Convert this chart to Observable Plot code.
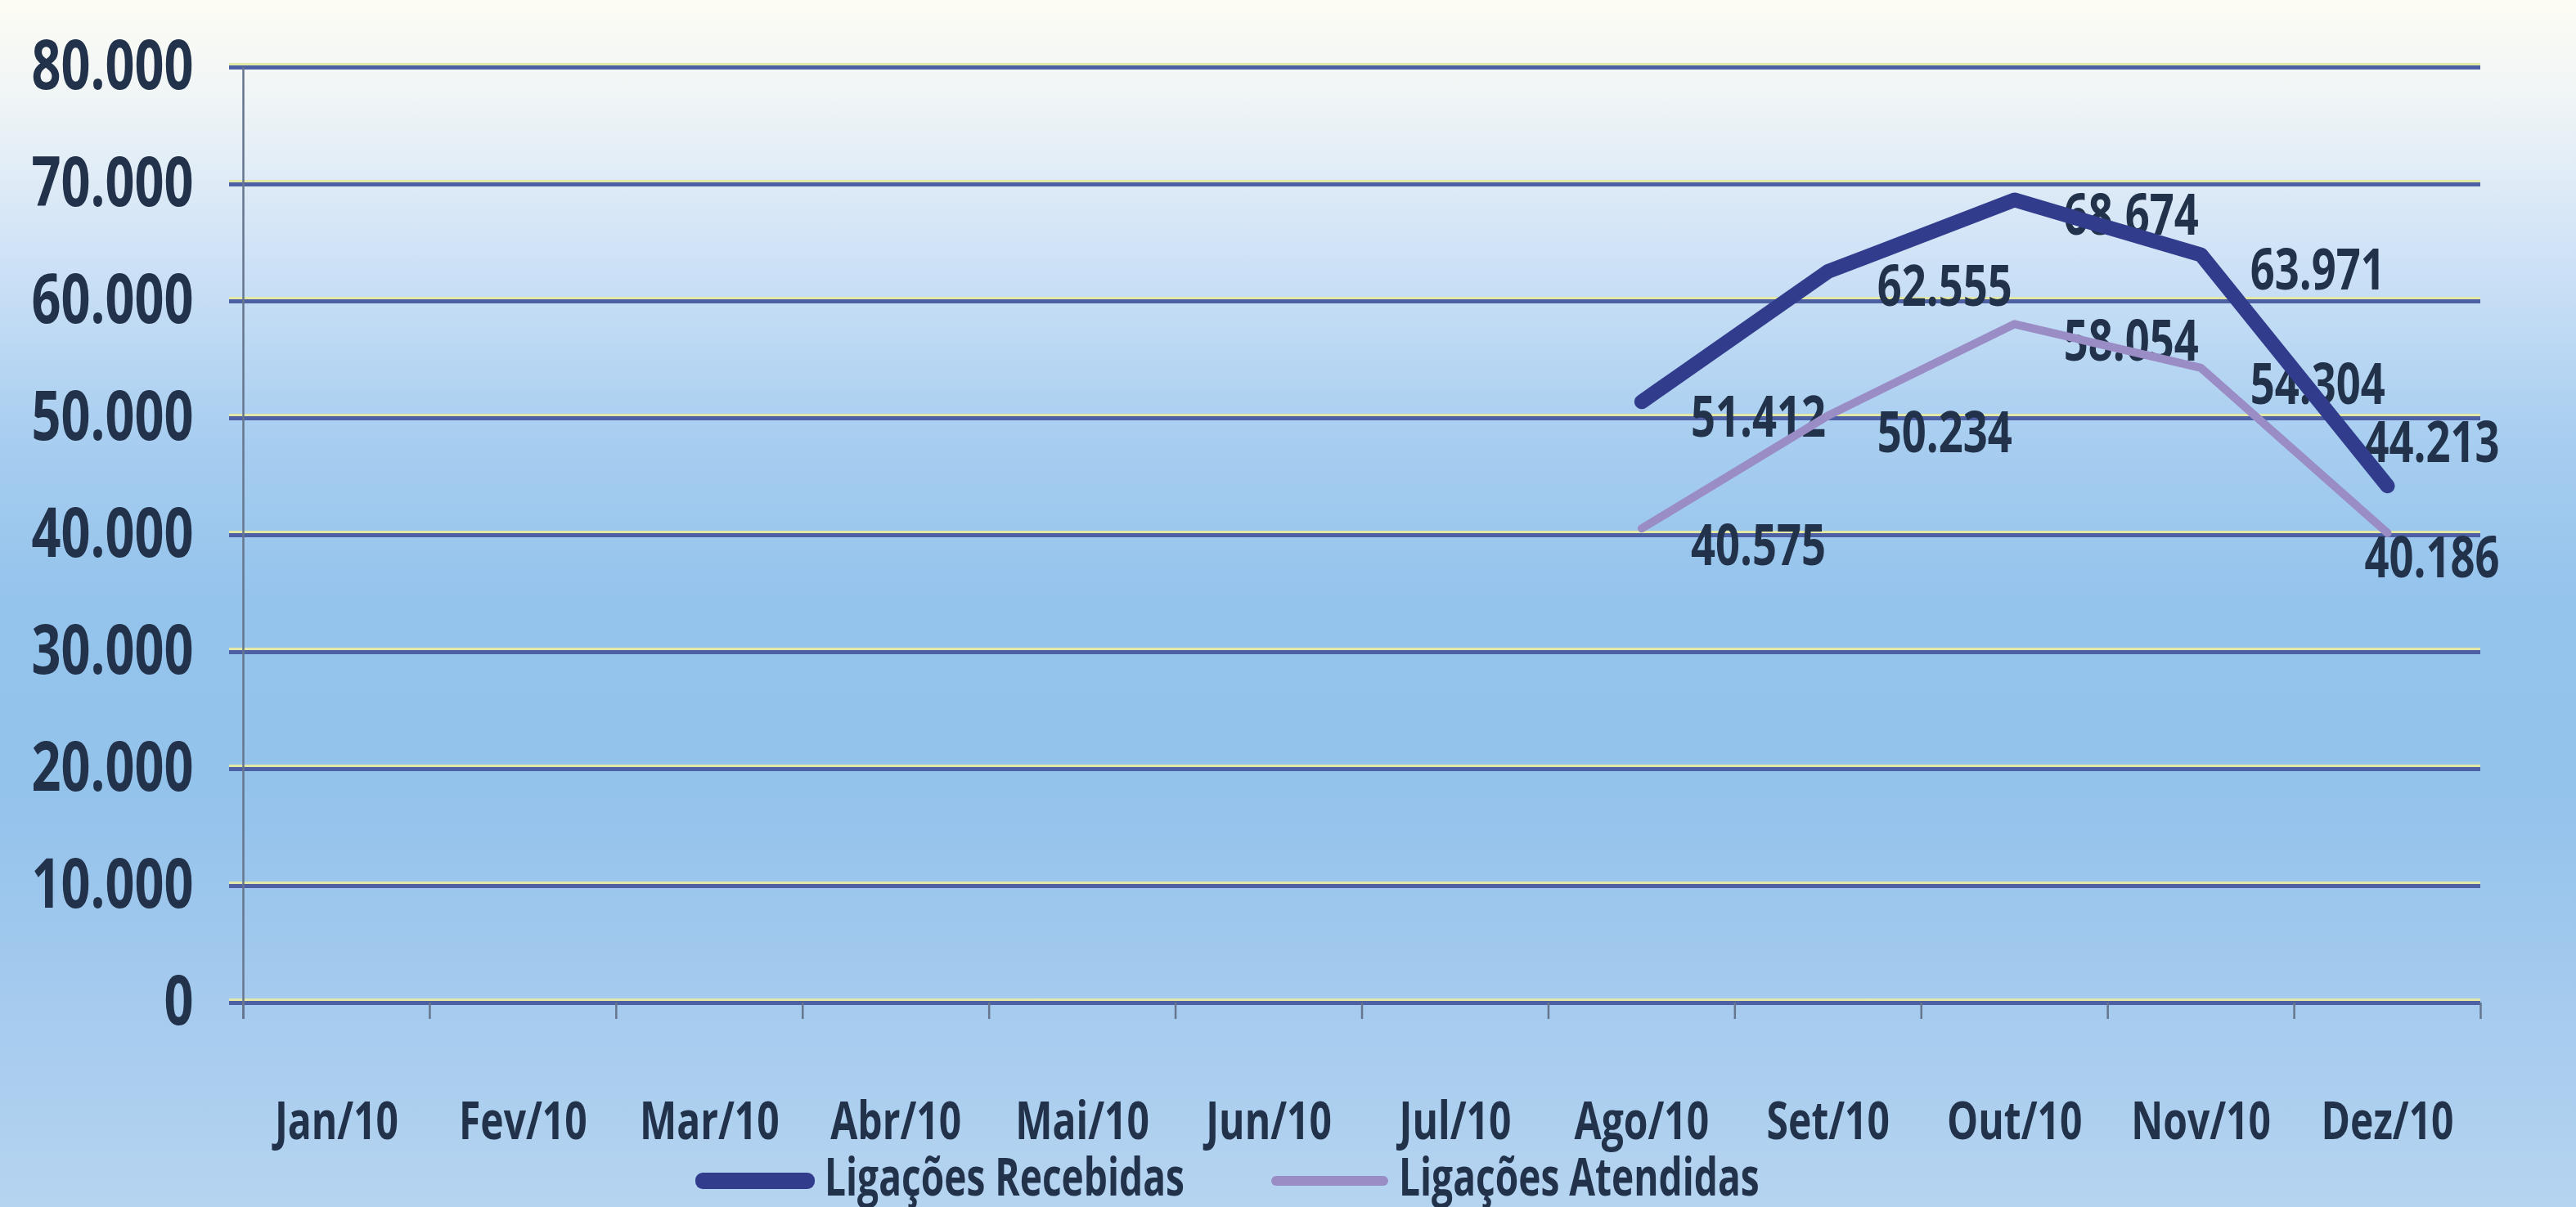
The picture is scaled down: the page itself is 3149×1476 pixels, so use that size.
<!DOCTYPE html>
<html>
<head>
<meta charset="utf-8">
<script src="https://cdn.jsdelivr.net/npm/d3@7"></script>
<script src="https://cdn.jsdelivr.net/npm/@observablehq/plot@0.6"></script>
<style>
  html, body { margin: 0; padding: 0; }
  body {
    width: 3149px; height: 1476px; overflow: hidden;
    background: linear-gradient(to bottom, #fdfcf4 0%, #f0f5f6 8%, #d2e4f7 20%, #a8cef0 36%, #94c3ec 50%, #93c2eb 65%, #a4caee 82%, #b5d4f0 100%);
    font-family: "Open Sans", sans-serif;
  }
  #legend { position: relative; height: 76px; width: 3149px; }
  .sw { position: absolute; border-radius: 9px; }
  .lt { position: absolute; top: 8px; font-size: 64px; line-height: 60px; color: #22324a; font-weight: 700; white-space: nowrap; transform-origin: 0 0; }
</style>
</head>
<body>
<div id="chart"></div>
<div id="legend"></div>
<script>
const months = ["Jan/10","Fev/10","Mar/10","Abr/10","Mai/10","Jun/10","Jul/10","Ago/10","Set/10","Out/10","Nov/10","Dez/10"];
const recebidas = [null,null,null,null,null,null,null,51412,62555,68674,63971,44213];
const atendidas = [null,null,null,null,null,null,null,40575,50234,58054,54304,40186];
const yTicks = [0,10000,20000,30000,40000,50000,60000,70000,80000];
const seriesNames = ["Ligações Recebidas","Ligações Atendidas"];
const seriesColors = ["#313d8c","#9a8dc6"];

const fmt = d3.formatLocale({decimal: ",", thousands: ".", grouping: [3], currency: ["", ""]}).format(",d");

const rowsR = months.map((m, i) => ({i, m, v: recebidas[i]})).filter(d => d.v != null);
const rowsA = months.map((m, i) => ({i, m, v: atendidas[i]})).filter(d => d.v != null);
const lastI = months.length - 1;
const boundaries = d3.range(months.length + 1);
const monthRows = months.map((m, i) => ({i, m}));

const labelColor = "#22324a";
const gridColor = "#4d60a3";
const squeeze = 0.75;

const chart = Plot.plot({
  width: 3149,
  height: 1400,
  marginTop: 82,
  marginBottom: 174,
  marginLeft: 297,
  marginRight: 117,
  style: {background: "transparent", fontFamily: "'Open Sans', sans-serif", overflow: "visible"},
  x: {domain: [0, months.length], axis: null},
  y: {domain: [0, 80000], axis: null},
  marks: [
    Plot.ruleY(yTicks, {stroke: "#e4e8a6", strokeWidth: 3, dy: -4, insetLeft: -17}),
    Plot.ruleY(yTicks, {stroke: gridColor, strokeWidth: 5, insetLeft: -17}),
    Plot.ruleX([0], {y1: 80000, y2: -1400, stroke: "#66768e", strokeWidth: 2.5}),
    Plot.ruleX(boundaries, {y1: 0, y2: -1400, stroke: "#66768e", strokeWidth: 2.5}),
    Plot.text(yTicks, {x: 0, y: d => d, text: d => fmt(d), textAnchor: "end", dx: -61, fontSize: 84, fill: labelColor, fontWeight: 700}),
    Plot.text(monthRows, {x: d => d.i + 0.5, y: 0, text: "m", dy: 146, fontSize: 64, fill: labelColor, fontWeight: 700}),
    Plot.text(rowsR.filter(d => d.i !== lastI), {x: d => d.i + 0.5, y: "v", text: d => fmt(d.v), textAnchor: "start", dx: 60, dy: 20, fontSize: 70, fill: labelColor, fontWeight: 700}),
    Plot.text(rowsR.filter(d => d.i === lastI), {x: d => d.i + 0.5, y: "v", text: d => fmt(d.v), textAnchor: "start", dx: -28, dy: -52, fontSize: 70, fill: labelColor, fontWeight: 700}),
    Plot.text(rowsA.filter(d => d.i !== lastI), {x: d => d.i + 0.5, y: "v", text: d => fmt(d.v), textAnchor: "start", dx: 60, dy: 22, fontSize: 70, fill: labelColor, fontWeight: 700}),
    Plot.text(rowsA.filter(d => d.i === lastI), {x: d => d.i + 0.5, y: "v", text: d => fmt(d.v), textAnchor: "start", dx: -28, dy: 32, fontSize: 70, fill: labelColor, fontWeight: 700}),
    Plot.line(rowsA, {x: d => d.i + 0.5, y: "v", stroke: seriesColors[1], strokeWidth: 10, strokeLinejoin: "round", strokeLinecap: "round"}),
    Plot.line(rowsR, {x: d => d.i + 0.5, y: "v", stroke: seriesColors[0], strokeWidth: 18, strokeLinejoin: "round", strokeLinecap: "round"})
  ]
});
document.getElementById("chart").appendChild(chart);

// condense the glyphs (reference uses a narrow font)
chart.querySelectorAll("text").forEach(t => {
  const w = t.getComputedTextLength();
  if (w > 0) {
    t.setAttribute("textLength", (w * squeeze).toFixed(1));
    t.setAttribute("lengthAdjust", "spacingAndGlyphs");
  }
});

// legend
const legend = document.getElementById("legend");
const swLeft = [850, 1554];
const swWidth = [146, 143];
const swThick = [20, 12];
const txtLeft = [1008, 1710];
seriesNames.forEach((name, k) => {
  const sw = document.createElement("div");
  sw.className = "sw";
  sw.style.left = swLeft[k] + "px";
  sw.style.width = swWidth[k] + "px";
  sw.style.height = swThick[k] + "px";
  sw.style.top = (44 - swThick[k] / 2) + "px";
  sw.style.background = seriesColors[k];
  legend.appendChild(sw);
  const t = document.createElement("div");
  t.className = "lt";
  t.style.left = txtLeft[k] + "px";
  t.textContent = name;
  t.style.transform = "scaleX(0.72)";
  legend.appendChild(t);
});
</script>
</body>
</html>
